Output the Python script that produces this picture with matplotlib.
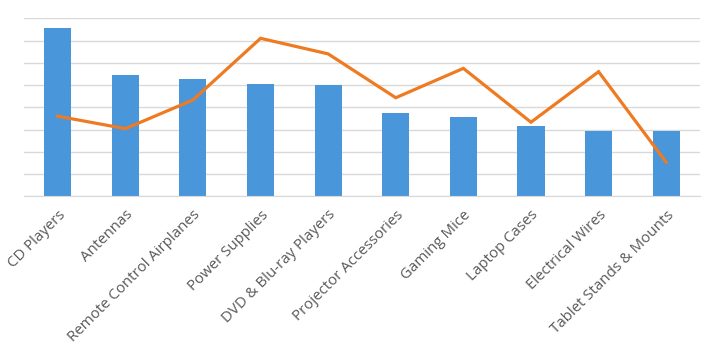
import matplotlib
matplotlib.use("Agg")
from matplotlib import pyplot as plt
import numpy as np

categories = ["CD Players", "Antennas", "Remote Control Airplanes", "Power Supplies",
              "DVD & Blu-ray Players", "Projector Accessories", "Gaming Mice",
              "Laptop Cases", "Electrical Wires", "Tablet Stands & Mounts"]
bar_values = [7.56, 5.45, 5.27, 5.05, 5.0, 3.74, 3.56, 3.15, 2.93, 2.93]
line_values = [3.6, 3.04, 4.33, 7.1, 6.4, 4.43, 5.75, 3.33, 5.6, 1.53]

plt.rcParams['font.family'] = ['Open Sans', 'DejaVu Sans']

fig = plt.figure(figsize=(7.2, 3.49), dpi=100)
ax = fig.add_axes([0.0333, 0.4375, 0.9389, 0.5101])

x = np.arange(len(categories))
ax.bar(x, bar_values, width=0.4, color="#4A96DA", zorder=2)
ax.plot(x, line_values, color="#EE7B22", linewidth=2.3, zorder=3, solid_joinstyle="miter")

ax.set_xlim(-0.5, len(categories) - 0.5)
ax.set_ylim(0, 8)
ax.set_yticks(np.arange(0, 9, 1))
ax.yaxis.grid(True, color="#D9D9D9", linewidth=1)
ax.set_axisbelow(True)
ax.tick_params(axis="y", left=False, labelleft=False)
ax.tick_params(axis="x", length=0, pad=8)
for s in ["top", "right", "left"]:
    ax.spines[s].set_visible(False)
ax.spines["bottom"].set_color("#D9D9D9")

ax.set_xticks(x)
ax.set_xticklabels(categories, rotation=45, ha="right", rotation_mode="anchor",
                   fontsize=10.8, color="#595959")

fig.savefig("out.png", dpi=100)
